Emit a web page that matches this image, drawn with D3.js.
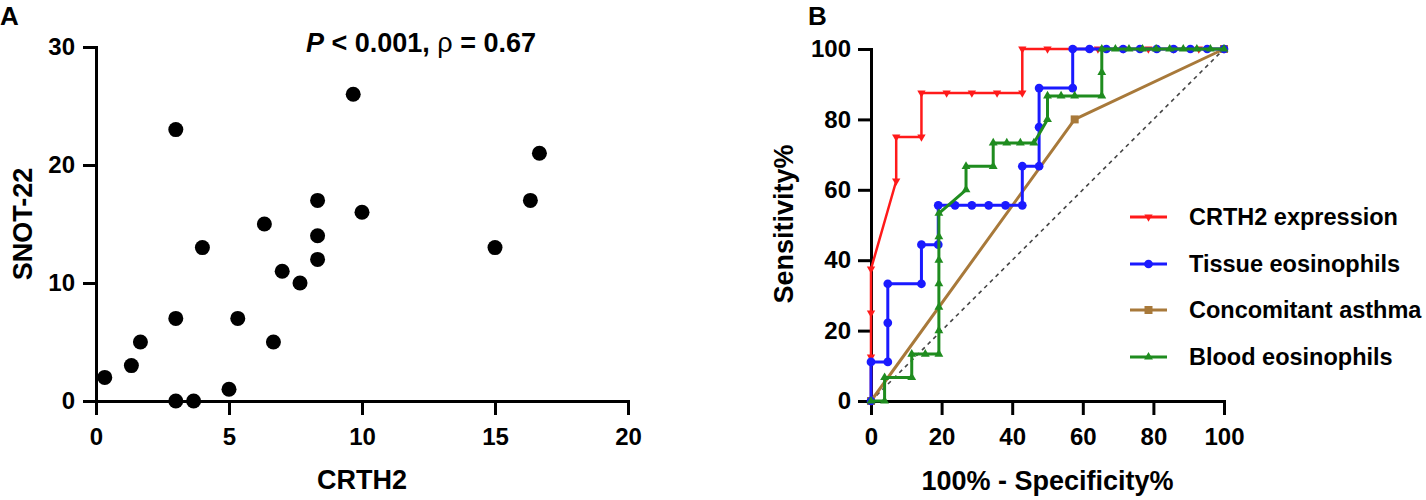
<!DOCTYPE html>
<html>
<head>
<meta charset="utf-8">
<script src="https://cdn.jsdelivr.net/npm/d3@7"></script>
<style>
  body { margin: 0; background: #fff; }
  svg { display: block; font-family: "Liberation Sans", Arial, sans-serif; }
  .axis path, .axis line { stroke: #000; stroke-width: 3; }
  .axis text { font-size: 24px; font-weight: bold; fill: #000; }
  .title { font-size: 27px; font-weight: bold; fill: #000; }
</style>
</head>
<body>
<svg width="1426" height="500"></svg>
<script>
// Panel A data: CRTH2 vs SNOT-22
const crth2 = [0.33, 1.33, 1.67, 3, 3, 3, 3.67, 4, 5, 5.33, 6.33, 6.67, 7, 7.67, 8.33, 8.33, 8.33, 9.67, 10, 15, 16.33, 16.67];
const snot22 = [2, 3, 5, 23, 7, 0, 0, 13, 1, 7, 15, 5, 11, 10, 17, 14, 12, 26, 16, 13, 17, 21];
const ticksA_x = [0, 5, 10, 15, 20];
const ticksA_y = [0, 10, 20, 30];

// Panel B data: ROC curves (100% - specificity %, sensitivity %)
const crthFpr = [0, 0, 0, 0, 7.14, 7.14, 14.29, 14.29, 21.43, 28.57, 35.71, 42.86, 42.86, 50, 57.14, 64.29, 71.43, 78.57, 85.71, 92.86, 100];
const crthTpr = [0, 12.5, 25, 37.5, 62.5, 75, 75, 87.5, 87.5, 87.5, 87.5, 87.5, 100, 100, 100, 100, 100, 100, 100, 100, 100];

const tissueFpr = [0, 0, 4.76, 4.76, 4.76, 14.29, 14.29, 19.05, 19.05, 23.81, 28.57, 33.33, 38.1, 42.86, 42.86, 47.62, 47.62, 47.62, 57.14, 57.14, 61.9, 66.67, 71.43, 76.19, 80.95, 85.71, 90.48, 95.24, 100];
const tissueTpr = [0, 11.1, 11.1, 22.2, 33.3, 33.3, 44.4, 44.4, 55.6, 55.6, 55.6, 55.6, 55.6, 55.6, 66.7, 66.7, 77.8, 88.9, 88.9, 100, 100, 100, 100, 100, 100, 100, 100, 100, 100];

const asthmaFpr = [0, 57.7, 100];
const asthmaTpr = [0, 80, 100];

const bloodFpr = [0, 3.85, 3.85, 11.54, 11.54, 15.38, 19.23, 19.23, 19.23, 19.23, 19.23, 19.23, 19.23, 26.92, 26.92, 34.62, 34.62, 38.46, 42.31, 46.15, 50, 50, 53.85, 57.69, 65.38, 65.38, 65.38, 69.23, 73.08, 76.92, 80.77, 84.62, 88.46, 92.31, 96.15, 100];
const bloodTpr = [0, 0, 6.67, 6.67, 13.33, 13.33, 13.33, 20, 26.67, 33.33, 40, 46.67, 53.33, 60, 66.67, 66.67, 73.33, 73.33, 73.33, 73.33, 80, 86.67, 86.67, 86.67, 86.67, 93.33, 100, 100, 100, 100, 100, 100, 100, 100, 100, 100];

const ticksB = [0, 20, 40, 60, 80, 100];
const rocNames = ["CRTH2 expression", "Tissue eosinophils", "Concomitant asthma", "Blood eosinophils"];

const svg = d3.select("svg");

// ---------- Panel A ----------
const xA = d3.scaleLinear().domain([0, 20]).range([96, 628]);
const yA = d3.scaleLinear().domain([0, 30]).range([401, 47]);

svg.append("g")
    .attr("class", "axis")
    .attr("transform", "translate(0,401)")
    .call(d3.axisBottom(xA).tickValues(ticksA_x).tickSize(14).tickSizeOuter(0).tickPadding(13));

svg.append("g")
    .attr("class", "axis")
    .attr("transform", "translate(96,0)")
    .call(d3.axisLeft(yA).tickValues(ticksA_y).tickSize(13).tickSizeOuter(0).tickPadding(8));

svg.selectAll(".axis path").attr("stroke-linecap", "square");

svg.append("g")
    .selectAll("circle")
    .data(crth2.map((c, i) => [c, snot22[i]]))
    .join("circle")
        .attr("cx", d => xA(d[0]))
        .attr("cy", d => yA(d[1]))
        .attr("r", 7.5)
        .attr("fill", "#000");

svg.append("text").attr("class", "title")
    .attr("x", 362).attr("y", 489).attr("text-anchor", "middle").text("CRTH2");

svg.append("text").attr("class", "title")
    .attr("transform", "translate(32,224) rotate(-90)")
    .attr("text-anchor", "middle").text("SNOT-22");

const ann = svg.append("text").attr("class", "title")
    .attr("x", 306).attr("y", 52).style("font-size", "27px");
ann.append("tspan").style("font-style", "italic").text("P");
ann.append("tspan").text(" < 0.001, ");
ann.append("tspan").style("font-weight", "normal").text("\u03C1");
ann.append("tspan").text(" = 0.67");

svg.append("text").attr("class", "title").style("font-size", "26px")
    .attr("x", 0).attr("y", 25).text("A");

// ---------- Panel B ----------
const xB = d3.scaleLinear().domain([0, 100]).range([871, 1224]);
const yB = d3.scaleLinear().domain([0, 100]).range([401, 49]);

svg.append("g")
    .attr("class", "axis")
    .attr("transform", "translate(0,401)")
    .call(d3.axisBottom(xB).tickValues(ticksB).tickSize(14).tickSizeOuter(0).tickPadding(13));

svg.append("g")
    .attr("class", "axis")
    .attr("transform", "translate(871,0)")
    .call(d3.axisLeft(yB).tickValues(ticksB).tickSize(13).tickSizeOuter(0).tickPadding(7));

svg.selectAll(".axis path").attr("stroke-linecap", "square");

// reference diagonal
svg.append("line")
    .attr("x1", xB(0)).attr("y1", yB(0))
    .attr("x2", xB(100)).attr("y2", yB(100))
    .attr("stroke", "#444").attr("stroke-width", 1.6)
    .attr("stroke-dasharray", "4,4");

const line = d3.line().x(d => xB(d[0])).y(d => yB(d[1]));

const series = [
    { name: rocNames[0], fpr: crthFpr, tpr: crthTpr, color: "#ff1a1a", width: 2.5, symbol: d3.symbolTriangle, size: 30, rotate: 180 },
    { name: rocNames[1], fpr: tissueFpr, tpr: tissueTpr, color: "#1a1aff", width: 3, symbol: d3.symbolCircle, size: 60, rotate: 0 },
    { name: rocNames[2], fpr: asthmaFpr, tpr: asthmaTpr, color: "#a8793a", width: 3, symbol: d3.symbolSquare, size: 64, rotate: 0 },
    { name: rocNames[3], fpr: bloodFpr, tpr: bloodTpr, color: "#1f8c1f", width: 3, symbol: d3.symbolTriangle, size: 34, rotate: 0 }
];

// draw order: red, brown, blue, green
[0, 2, 1, 3].forEach(k => {
    const s = series[k];
    const pts = s.fpr.map((f, i) => [f, s.tpr[i]]);
    const g = svg.append("g");
    g.append("path")
        .datum(pts)
        .attr("d", line)
        .attr("fill", "none")
        .attr("stroke", s.color)
        .attr("stroke-width", s.width)
        .attr("stroke-linejoin", "round");
    g.selectAll("path.m")
        .data(pts)
        .join("path")
            .attr("class", "m")
            .attr("d", d3.symbol().type(s.symbol).size(s.size))
            .attr("transform", d => `translate(${xB(d[0])},${yB(d[1])}) rotate(${s.rotate})`)
            .attr("fill", s.color);
});

// legend
const legendY = [217, 264, 310, 357];
series.forEach((s, i) => {
    const g = svg.append("g").attr("transform", `translate(0,${legendY[i]})`);
    g.append("line")
        .attr("x1", 1130).attr("x2", 1167)
        .attr("stroke", s.color).attr("stroke-width", 3);
    g.append("path")
        .attr("d", d3.symbol().type(s.symbol).size(s.size))
        .attr("transform", `translate(1148.5,0) rotate(${s.rotate})`)
        .attr("fill", s.color);
    g.append("text")
        .attr("x", 1189).attr("dy", "0.36em")
        .style("font-size", "23.5px").style("font-weight", "bold")
        .text(s.name);
});

svg.append("text").attr("class", "title")
    .attr("x", 1047.5).attr("y", 490).attr("text-anchor", "middle").text("100% - Specificity%");

svg.append("text").attr("class", "title")
    .attr("transform", "translate(793,224) rotate(-90)")
    .attr("text-anchor", "middle").text("Sensitivity%");

svg.append("text").attr("class", "title").style("font-size", "26px")
    .attr("x", 808).attr("y", 25).text("B");
</script>
</body>
</html>
